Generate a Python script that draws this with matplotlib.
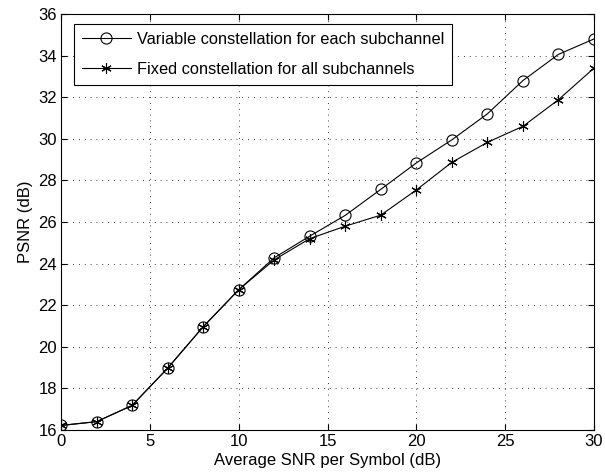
import numpy as np
import matplotlib.pyplot as plt

plt.rcParams['font.family'] = ['Liberation Sans', 'DejaVu Sans']

# Average SNR per symbol (dB)
snr = [0, 2, 4, 6, 8, 10, 12, 14, 16, 18, 20, 22, 24, 26, 28, 30]

# PSNR (dB)
psnr_variable = [16.22, 16.4, 17.18, 18.97, 20.96, 22.74, 24.28, 25.32, 26.32,
                 27.57, 28.84, 29.95, 31.2, 32.8, 34.06, 34.8]
psnr_fixed = [16.22, 16.4, 17.18, 18.97, 20.96, 22.74, 24.18, 25.2, 25.8,
              26.33, 27.54, 28.87, 29.83, 30.6, 31.88, 33.4]

label_variable = 'Variable constellation for each subchannel'
label_fixed = 'Fixed constellation for all subchannels'

fig = plt.figure(figsize=(6.05, 4.73), dpi=100)
ax = fig.add_axes([61/605, 43/473, 533/605, 416/473])

# MATLAB-style asterisk: 6 line spokes
asterisk = (6, 2, 0)

ax.plot(snr, psnr_variable, color='k', linewidth=0.8, marker='o',
        markersize=8, markerfacecolor='none', markeredgewidth=0.8,
        label=label_variable)
ax.plot(snr, psnr_fixed, color='k', linewidth=0.8, marker=asterisk,
        markersize=7.5, markeredgewidth=0.8, label=label_fixed)

ax.set_xlim(0, 30)
ax.set_ylim(16, 36)
ax.set_xticks(np.arange(0, 31, 5))
ax.set_yticks(np.arange(16, 37, 2))
ax.tick_params(direction='in', top=True, right=True, labelsize=12,
               length=4, width=0.8, pad=3)
ax.grid(True, linestyle=(0, (1, 6)), color='k', linewidth=0.6)
for s in ax.spines.values():
    s.set_linewidth(0.8)

ax.set_xlabel('Average SNR per Symbol (dB)', fontsize=12, labelpad=3)
ax.set_ylabel('PSNR (dB)', fontsize=12, labelpad=4)

leg = ax.legend(loc='upper left', bbox_to_anchor=(0.024, 0.976),
                fontsize=11.75, fancybox=False, framealpha=1, edgecolor='k',
                borderpad=0.5, labelspacing=0.9, handlelength=3.0,
                borderaxespad=0, handletextpad=0.35)
leg.get_frame().set_linewidth(0.8)

fig.savefig('out.png', dpi=100)
